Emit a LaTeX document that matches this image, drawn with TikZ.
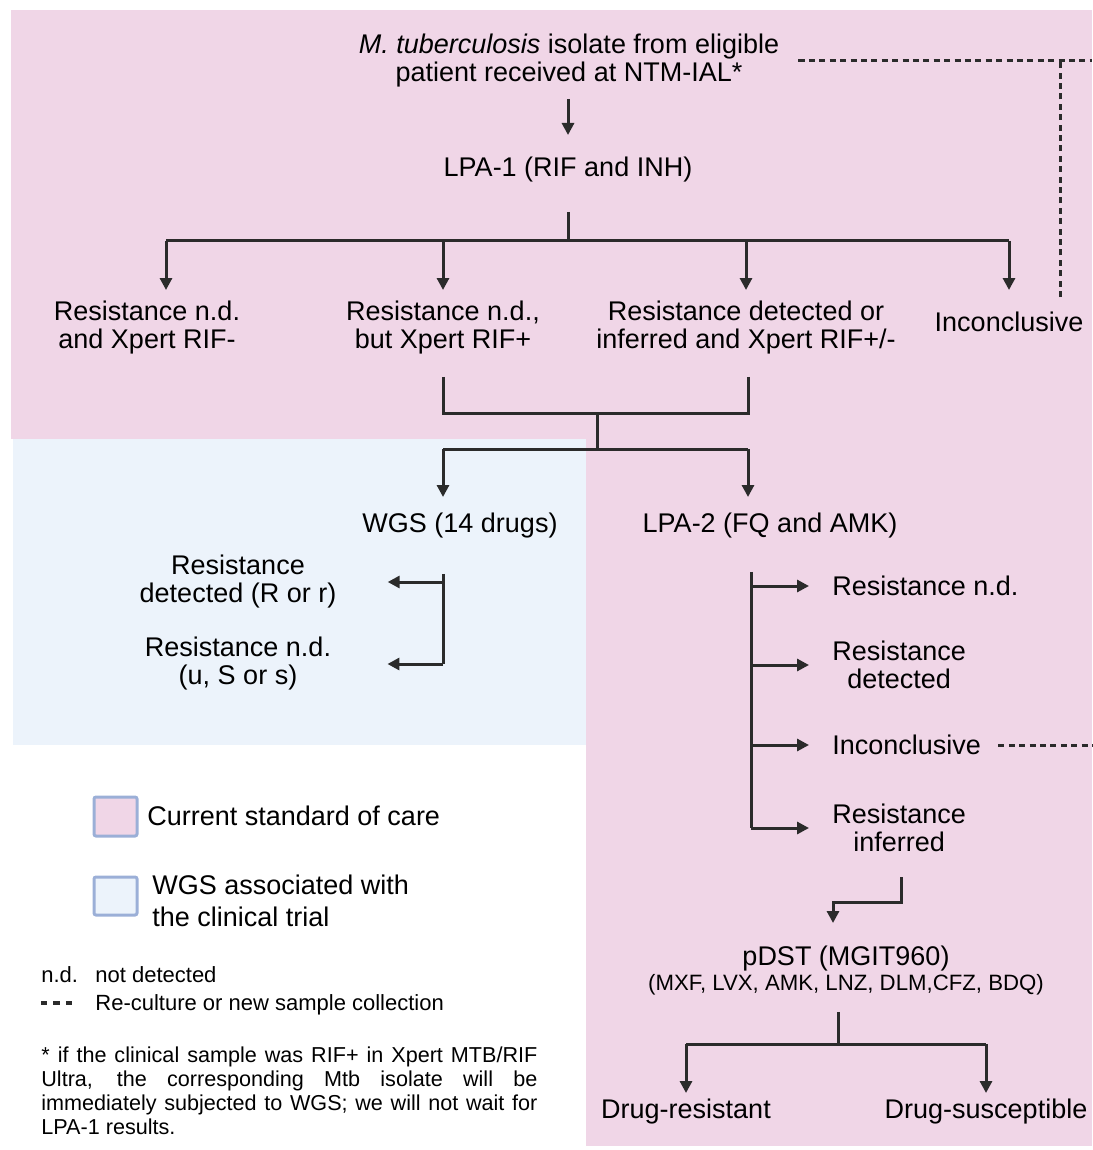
\documentclass[tikz,border=0pt]{standalone}
\usepackage{fontspec}
\setmainfont{Liberation Sans}
\usetikzlibrary{calc, arrows.meta}

\definecolor{careback}{RGB}{240,214,231}
\definecolor{trialback}{RGB}{236,243,251}
\definecolor{keyedge}{RGB}{155,175,215}
\definecolor{linegray}{RGB}{43,43,43}

\tikzset{
    flowtext/.style = {inner sep=0pt, align=center, font=\fontsize{13.5}{14}\selectfont},
    keytext/.style = {inner sep=0pt, align=left, font=\fontsize{13.5}{16}\selectfont},
    notetext/.style = {inner sep=0pt, font=\fontsize{11}{12}\selectfont},
    flowline/.style = {linegray, line width=1.5pt},
    flowarrow/.style = {flowline, -{Triangle[length=6pt, width=6pt]}},
    retryline/.style = {linegray, line width=1.5pt, dash pattern=on 3pt off 2.2pt},
    keybox/.style = {draw=keyedge, line width=1.5pt, rounded corners=1pt}
}

\begin{document}
\begin{tikzpicture}[x=0.5pt, y=-0.5pt]
            \useasboundingbox (0, 0) rectangle (1092, 1150);

            % backgrounds
            \fill[careback] (11, 10) rectangle (1092, 439);
            \fill[trialback] (13, 439) rectangle (586, 745);
            \fill[careback] (586, 439) rectangle (1092, 1146);

            % junction points
            \coordinate (split1) at (568, 241);
            \coordinate (fork_a) at (166, 241);
            \coordinate (merge) at (597, 413);
            \coordinate (split2) at (597, 449);
            \coordinate (to_wgs) at (443, 449);
            \coordinate (to_lpa2) at (748, 449);
            \coordinate (wstem) at (443, 573);
            \coordinate (lstem) at (751, 573);
            \coordinate (retry) at (1060, 61);
            \coordinate (rim_top) at (1092, 61);
            \coordinate (rim_low) at (1092, 746);
            \coordinate (bend_a) at (901, 902);
            \coordinate (bend_b) at (833, 902);
            \coordinate (split3) at (838, 1044);

            % LPA-1
            \node[flowtext, anchor=north] (isolate) at (569, 34) {\textit{M. tuberculosis} isolate from eligible\\patient received at NTM-IAL*};
            \node[flowtext, anchor=north] (lpa1) at (568, 157) {LPA-1 (RIF and INH)};
            \node[flowtext, anchor=north] (res_nd) at (147, 301) {Resistance n.d.\\and Xpert RIF-};
            \node[flowtext, anchor=north] (res_ndplus) at (443, 301) {Resistance n.d.,\\but Xpert RIF+};
            \node[flowtext, anchor=north] (res_det) at (746, 301) {Resistance detected or\\inferred and Xpert RIF+/-};
            \node[flowtext, anchor=north] (inconcl) at (1009, 312) {Inconclusive};

            \draw[flowarrow, shorten <=5.5pt, shorten >=11pt] (isolate.south -| lpa1.north) -- (lpa1.north);
            \draw[flowline, shorten <=14.5pt] (lpa1.south) -- (split1);
            \draw[flowline] (fork_a) -- (fork_a -| inconcl.north);
            \draw[flowarrow, shorten >=5.5pt] (fork_a) -- (fork_a |- res_nd.north);
            \foreach \n in {res_ndplus, res_det} {
                \draw[flowarrow, shorten >=5.5pt] (\n.north |- fork_a) -- (\n.north);
            }
            \draw[flowarrow, shorten >=11pt] (inconcl.north |- fork_a) -- (inconcl.north);

            \draw[retryline, shorten <=9.5pt] (isolate.east |- retry) -- (rim_top);
            \draw[retryline, shorten <=7.5pt] (inconcl.north -| retry) -- (retry);

            % WGS and LPA-2
            \draw[flowline, shorten <=11pt] (res_ndplus.south) |- (merge);
            \draw[flowline, shorten <=11pt] (res_det.south -| to_lpa2) |- (merge);
            \draw[flowline] (merge) -- (split2);
            \draw[flowline] (to_wgs) -- (to_lpa2);

            \node[flowtext, anchor=north] (wgs) at (460, 513) {WGS (14 drugs)};
            \node[flowtext, anchor=north] (lpa2) at (770, 513) {LPA-2 (FQ and AMK)};
            \draw[flowarrow, shorten >=8pt] (to_wgs) -- (to_wgs |- wgs.north);
            \draw[flowarrow, shorten >=8pt] (to_lpa2) -- (to_lpa2 |- lpa2.north);

            \node[flowtext] (wgs_res) at (238, 582) {Resistance\\detected (R or r)};
            \node[flowtext] (wgs_sus) at (238, 664) {Resistance n.d.\\(u, S or s)};
            \draw[flowline, shorten <=17.5pt] (wgs.south -| wstem) -- (wgs_sus -| wstem);
            \draw[flowarrow, shorten >=25.5pt] (wgs_res -| wstem) -- (wgs_res.east);
            \draw[flowarrow, shorten >=28pt] (wgs_sus -| wstem) -- (wgs_sus.east);

            \node[flowtext, anchor=west] (lpa2_nd) at (832, 586) {Resistance n.d.};
            \node[flowtext, anchor=west] (lpa2_det) at (832, 665) {Resistance\\detected};
            \node[flowtext, anchor=west] (lpa2_inc) at (832, 745) {Inconclusive};
            \node[flowtext, anchor=west] (lpa2_inf) at (832, 828) {Resistance\\inferred};
            \draw[flowline, shorten <=16.5pt] (lpa2.south -| lstem) -- (lpa2_inf.west -| lstem);
            \foreach \t in {lpa2_nd, lpa2_det, lpa2_inc, lpa2_inf} {
                \draw[flowarrow, shorten >=11.5pt] (\t.west -| lstem) -- (\t.west);
            }
            \draw[retryline, shorten <=8.5pt] (lpa2_inc.east) -- (lpa2_inc.east -| rim_low);

            % pDST
            \node[flowtext, anchor=north] (pdst) at (846, 946) {pDST (MGIT960)\\[-1.5pt]{\fontsize{11.1}{12}\selectfont (MXF, LVX, AMK, LNZ, DLM,CFZ, BDQ)}};
            \draw[flowarrow, shorten <=12.5pt, shorten >=11.5pt] (lpa2_inf.south -| bend_a) -- (bend_a) -- (bend_b) -- (bend_b |- pdst.north);

            \node[flowtext, anchor=north] (drug_r) at (686, 1099) {Drug-resistant};
            \node[flowtext, anchor=north] (drug_s) at (986, 1099) {Drug-susceptible};
            \draw[flowline, shorten <=8pt] (pdst.south -| split3) -- (split3);
            \draw[flowline] (split3 -| drug_r) -- (split3 -| drug_s);
            \foreach \n in {drug_r, drug_s} {
                \draw[flowarrow, shorten >=3pt] (split3 -| \n) -- (\n.north);
            }

            % legend
            \draw[keybox, fill=careback] (94, 797) rectangle (137, 836);
            \draw[keybox, fill=trialback] (94, 877) rectangle (137, 915);
            \node[keytext, anchor=west] (key_care) at (147, 816) {Current standard of care};
            \node[keytext, anchor=west] (key_trial) at (152, 901) {WGS associated with\\the clinical trial};

            \node[notetext, anchor=base west] (abbr) at (41, 982) {n.d.};
            \node[notetext, anchor=base west] (abbr_txt) at (95, 982) {not detected};
            \draw[retryline, line width=2pt, dash pattern=on 3.2pt off 3pt] (41, 1003) -- (75, 1003);
            \node[notetext, anchor=base west] (retry_txt) at (95, 1010) {Re-culture or new sample collection};

            \node[notetext, anchor=north west, text width=248pt, align=justify, font=\fontsize{10.8}{12}\selectfont] (footnote) at (41, 1046)
                {* if the clinical sample was RIF+ in Xpert MTB/RIF\linebreak Ultra, the corresponding Mtb isolate will be\linebreak immediately subjected to WGS; we will not wait for\linebreak LPA-1 results.};

        \end{tikzpicture}
\end{document}
